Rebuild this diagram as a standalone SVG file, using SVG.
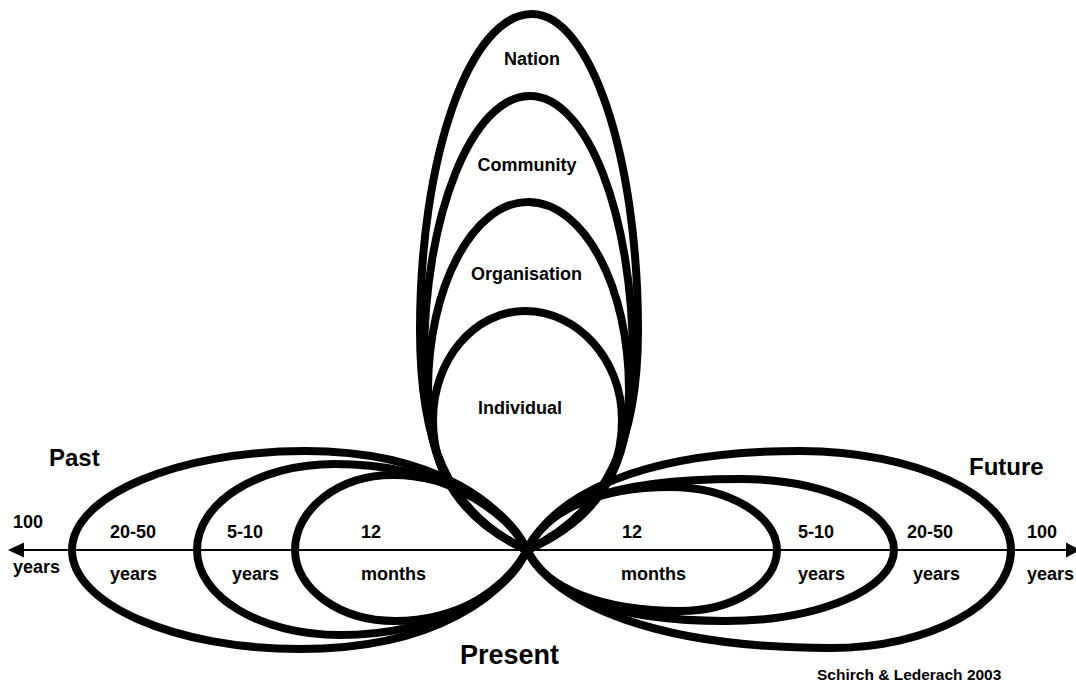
<svg xmlns="http://www.w3.org/2000/svg" width="1076" height="686" viewBox="0 0 1076 686">
<style>
.lobe{fill:none;stroke:#000;stroke-width:8;stroke-linejoin:round}
.axis{stroke:#000;stroke-width:2;fill:none}
.t{font-family:"Liberation Sans",Arial,sans-serif;font-weight:bold;fill:#000;font-size:18px}
.big{font-size:24px}
</style>
<rect width="1076" height="686" fill="#fff"/>
<g id="connectors">
<line class="axis" x1="22" y1="550" x2="1068" y2="550"/>
<polygon points="8,550 24,542.5 24,557.5" fill="#000"/>
<polygon points="1080,550 1066,542.5 1066,557.5" fill="#000"/>
</g>
<g id="past-100">
<path class="lobe" d="M527,550 C505,508 440,451 305,451 C177,451 72,496 72,550 C72,604 175,649 300,649 C440,649 505,592 527,550 Z"/>
</g>
<g id="past-20-50">
<path class="lobe" d="M527,550 C507,510 440,464 335,464 C259,464 197,502 197,550 C197,597 261,635 340,635 C440,635 505,592 527,550 Z"/>
</g>
<g id="past-12">
<path class="lobe" d="M527,550 C510,512 455,475 393,475 C339,475 295,509 295,550 C295,589 340,621 395,621 C455,621 510,590 527,550 Z"/>
</g>
<g id="future-12">
<path class="lobe" d="M527,550 C545,510 600,487 670,487 C729,487 777,516 777,550 C777,584 733,611 680,611 C605,611 545,590 527,550 Z"/>
</g>
<g id="future-5-10">
<path class="lobe" d="M527,550 C548,508 600,479 740,479 C825,479 894,511 894,550 C894,589 818,621 725,621 C615,621 550,595 527,550 Z"/>
</g>
<g id="future-20-50">
<path class="lobe" d="M527,550 C555,495 640,451 800,451 C916,451 1011,496 1011,550 C1011,604 930,648 830,648 C660,648 555,605 527,550 Z"/>
</g>
<g id="nation">
<path class="lobe" d="M527,550 C445,512 420,440 420,330 C420,156 470,14 532,14 C590,14 638,156 638,330 C638,440 608,512 527,550 Z"/>
<text class="t" x="532" y="65" text-anchor="middle">Nation</text>
</g>
<g id="community">
<path class="lobe" d="M527,550 C448,514 424,450 424,360 C424,215 472,96 530,96 C587,96 633,215 633,360 C633,450 606,514 527,550 Z"/>
<text class="t" x="527" y="171" text-anchor="middle">Community</text>
</g>
<g id="organisation">
<path class="lobe" d="M527,550 C452,516 428,460 428,390 C428,287 473,202 528,202 C584,202 629,287 629,390 C629,460 604,516 527,550 Z"/>
<text class="t" x="526.5" y="280" text-anchor="middle">Organisation</text>
</g>
<g id="individual">
<path class="lobe" d="M527,550 C458,518 433,470 433,420 C433,360 474,311 525,311 C578,311 622,360 622,420 C622,470 600,518 527,550 Z"/>
<text class="t" x="520" y="414" text-anchor="middle">Individual</text>
</g>
<g id="labels">
<text class="t big" x="49" y="466">Past</text>
<text class="t big" x="969" y="475">Future</text>
<text class="t" x="460" y="664" style="font-size:27px">Present</text>
<text class="t" x="817" y="680" style="font-size:15.5px">Schirch &amp; Lederach 2003</text>
<text class="t" x="13" y="528">100</text>
<text class="t" x="13" y="573">years</text>
<text class="t" x="110" y="538">20-50</text>
<text class="t" x="110" y="580">years</text>
<text class="t" x="227" y="538">5-10</text>
<text class="t" x="232" y="580">years</text>
<text class="t" x="361" y="538">12</text>
<text class="t" x="361" y="580">months</text>
<text class="t" x="622" y="538">12</text>
<text class="t" x="621" y="580">months</text>
<text class="t" x="798" y="538">5-10</text>
<text class="t" x="798" y="580">years</text>
<text class="t" x="907" y="538">20-50</text>
<text class="t" x="913" y="580">years</text>
<text class="t" x="1027" y="538">100</text>
<text class="t" x="1027" y="580">years</text>
</g>
</svg>
